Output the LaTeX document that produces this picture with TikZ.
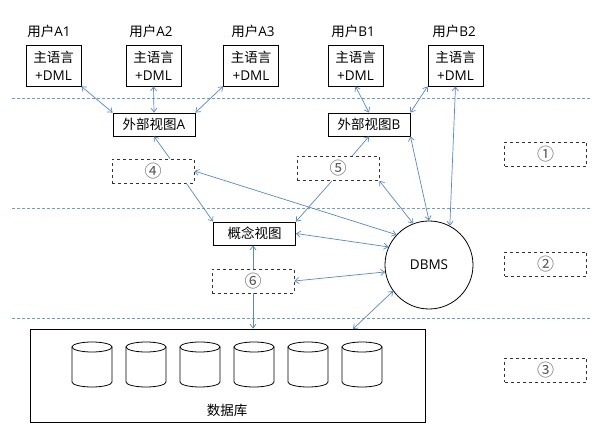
\documentclass[tikz,border=0pt]{standalone}
\usepackage{fontspec}
\setmainfont{Open Sans}
\newfontfamily\cjk{Noto Sans CJK SC}
\usepackage{tikz}
\usepackage{xcolor}
\usetikzlibrary{positioning,arrows.meta}
\definecolor{linkblue}{RGB}{88,136,200}
\definecolor{sepblue}{RGB}{110,155,215}
\newcommand{\zh}[1]{{\cjk #1}}
\tikzstyle{prog} = [draw, line width=0.8pt, minimum width=55pt, minimum height=41pt, inner sep=0pt, align=center, font=\fontsize{13.5}{18}\selectfont]
\tikzstyle{view} = [draw, line width=0.8pt, minimum width=82pt, minimum height=23pt, inner sep=0pt, font=\fontsize{13.5}{15}\selectfont]
\tikzstyle{hole} = [draw, dashed, line width=0.7pt, black!80, minimum width=82pt, minimum height=24pt, inner sep=0pt, text=black!65, font=\cjk\fontsize{17}{17}\selectfont]
\tikzstyle{link} = [draw=linkblue, line width=0.7pt, {Straight Barb[length=4pt,width=6pt]}-{Straight Barb[length=4pt,width=6pt]}]
\tikzstyle{tolink} = [draw=linkblue, line width=0.7pt, -{Straight Barb[length=4pt,width=6pt]}]
\tikzstyle{sep} = [draw=sepblue, line width=1pt, dash pattern=on 3pt off 2pt]
\tikzstyle{disk} = [draw, line width=0.8pt]

\begin{document}
\begin{tikzpicture}[x=1pt,y=-1pt]
			\useasboundingbox (0,0) rectangle (597,435);
			% level separators
			\draw[sep] (12,99) -- (590,99);
			\draw[sep] (12,209) -- (590,209);
			\draw[sep] (12,319) -- (590,319);
			% users
			\node[prog] (a1) at (53.5,65.5) {\zh{主语言}\\+DML};
			\node[prog] (a2) at (153.5,65.5) {\zh{主语言}\\+DML};
			\node[prog] (a3) at (251,65.5) {\zh{主语言}\\+DML};
			\node[prog] (b1) at (355.5,65.5) {\zh{主语言}\\+DML};
			\node[prog] (b2) at (455.5,65.5) {\zh{主语言}\\+DML};
			\node[font=\fontsize{13.5}{15}\selectfont] at (49,31) {\zh{用户}A1};
			\node[font=\fontsize{13.5}{15}\selectfont] at (151,31) {\zh{用户}A2};
			\node[font=\fontsize{13.5}{15}\selectfont] at (253,31) {\zh{用户}A3};
			\node[font=\fontsize{13.5}{15}\selectfont] at (353,31) {\zh{用户}B1};
			\node[font=\fontsize{13.5}{15}\selectfont] at (454,31) {\zh{用户}B2};
			% views
			\node[view] (va) at (154,124.5) {\zh{外部视图}A};
			\node[view] (vb) at (369,124.5) {\zh{外部视图}B};
			\node[view] (cv) at (254.5,233.5) {\zh{概念视图}};
			\node[hole] (d4) at (153,171) {④};
			\node[hole] (d5) at (338,168.5) {⑤};
			\node[hole] (d6) at (253,281) {⑥};
			\node[draw, circle, line width=0.8pt, minimum size=88pt, inner sep=0pt, font=\fontsize{13.5}{15}\selectfont] (dbms) at (429,265) {DBMS};
			% database
			\node[draw, line width=0.8pt, minimum width=395pt, minimum height=93pt] (db) at (227.5,375.5) {};
			\foreach \x in {92,146,200,254,308,362} {
				\draw[disk] (\x-20,347) -- (\x-20,382) arc[start angle=180, end angle=0, x radius=20, y radius=5] -- (\x+20,347);
				\draw[disk] (\x,347) ellipse[x radius=20, y radius=5];
			}
			\node[font=\cjk\fontsize{13.5}{15}\selectfont] (dbname) at (227,410) {数据库};
			\coordinate (dbin) at (353,329);
			% level marks
			\node[hole] (n1) at (545.5,154.5) {①};
			\node[hole] (n2) at (545.5,264) {②};
			\node[hole] (n3) at (545.5,370.5) {③};
			% connections
			\draw[link] (a1.south east) -- (va.north west);
			\draw[link] (a2.south) -- (va.north);
			\draw[link] (a3.south west) -- (va.north east);
			\draw[link] (b1.south) -- (vb.north);
			\draw[link] (b2.south west) -- (vb.north east);
			\draw[link] (b2.south) -- (dbms.62);
			\draw[link] (vb.south east) -- (dbms.90);
			\draw[tolink] ([xshift=17pt]d4.north) -- (va.south);
			\draw[tolink] ([xshift=-8pt]d4.south east) -- (cv.north west);
			\draw[link] (d4.east) -- (dbms.137);
			\draw[tolink] ([xshift=14pt]d5.north) -- (vb.south);
			\draw[tolink] ([xshift=-6pt]d5.south) -- (cv.north east);
			\draw[link] (d5.south east) -- (dbms.111);
			\draw[link] (cv.east) -- (dbms.156);
			\draw[tolink] (d6.north) -- (d6.north |- cv.south);
			\draw[link] (d6.east) -- (dbms.189);
			\draw[tolink] (d6.south) -- (d6.south |- db.north);
			\draw[link] (dbms.216) -- (dbin);
		\end{tikzpicture}
\end{document}
